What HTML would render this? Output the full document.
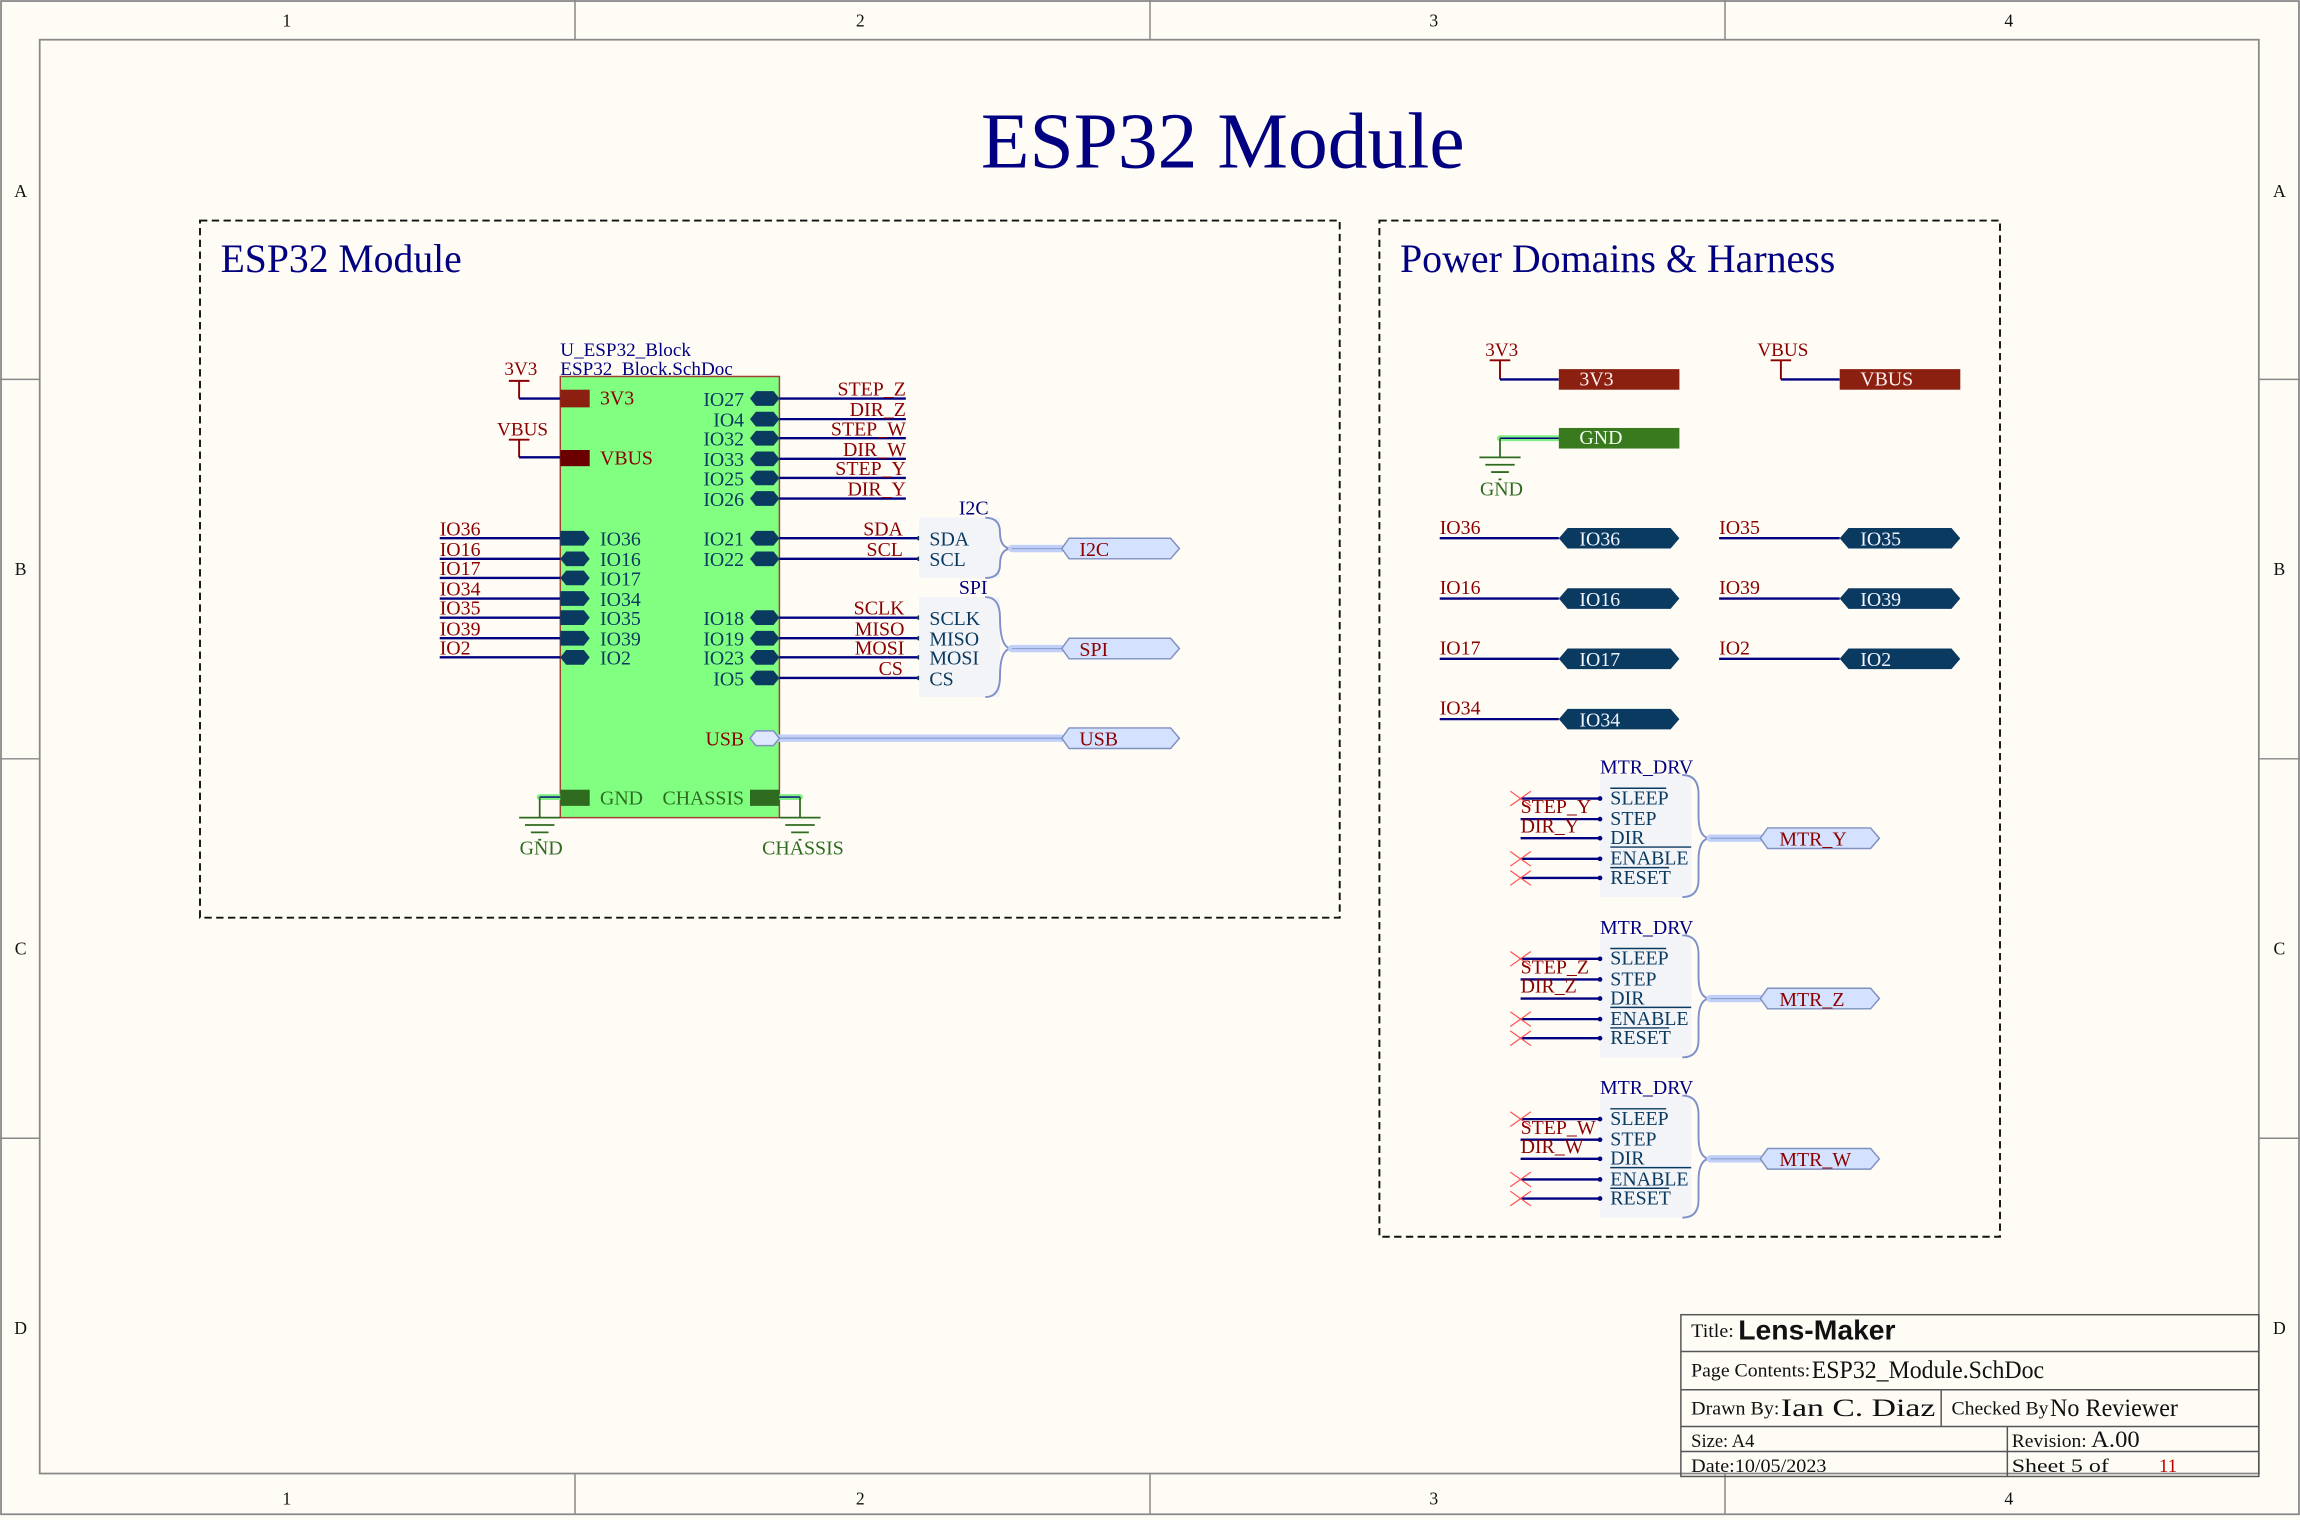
<!DOCTYPE html>
<html><head><meta charset="utf-8"><style>
html,body{margin:0;padding:0;background:#fffcf6;}
svg{display:block;}
text{font-family:"Liberation Serif",serif;}
.nv{fill:#000080}.dr{fill:#8b0000}.pb{fill:#0a3a60}.gr{fill:#2e6b1f}
.w{stroke:#000080;stroke-width:1.6;fill:none}
</style></head><body>
<svg width="2300" height="1520" viewBox="0 0 1564 1033.6" preserveAspectRatio="none" xmlns="http://www.w3.org/2000/svg">
<rect x="0" y="0" width="1564" height="1033.6" fill="#fffcf6"/>
<rect x="0.7" y="0.7" width="1562.6" height="1029" fill="none" stroke="#888" stroke-width="1.2"/>
<rect x="27" y="27" width="1509" height="975" fill="none" stroke="#888" stroke-width="1.2"/>
<g stroke="#888" stroke-width="1">
<line x1="391" y1="0" x2="391" y2="27"/><line x1="782" y1="0" x2="782" y2="27"/><line x1="1173" y1="0" x2="1173" y2="27"/>
<line x1="391" y1="1002" x2="391" y2="1030"/><line x1="782" y1="1002" x2="782" y2="1030"/><line x1="1173" y1="1002" x2="1173" y2="1030"/>
<line x1="0" y1="258" x2="27" y2="258"/><line x1="0" y1="516" x2="27" y2="516"/><line x1="0" y1="774" x2="27" y2="774"/>
<line x1="1536" y1="258" x2="1564" y2="258"/><line x1="1536" y1="516" x2="1564" y2="516"/><line x1="1536" y1="774" x2="1564" y2="774"/>
</g>
<g font-size="12" fill="#111" text-anchor="middle">
<text x="195" y="18">1</text><text x="585" y="18">2</text><text x="975" y="18">3</text><text x="1366" y="18">4</text>
<text x="195" y="1023">1</text><text x="585" y="1023">2</text><text x="975" y="1023">3</text><text x="1366" y="1023">4</text>
<text x="14" y="134">A</text><text x="14" y="391">B</text><text x="14" y="649">C</text><text x="14" y="907">D</text>
<text x="1550" y="134">A</text><text x="1550" y="391">B</text><text x="1550" y="649">C</text><text x="1550" y="907">D</text>
</g>
<text x="667" y="114" font-size="54" class="nv" textLength="329" lengthAdjust="spacingAndGlyphs">ESP32 Module</text>

<rect x="136" y="150" width="775" height="474" fill="none" stroke="#111" stroke-width="1.3" stroke-dasharray="5,3"/>
<rect x="938" y="150" width="422" height="691" fill="none" stroke="#111" stroke-width="1.3" stroke-dasharray="5,3"/>
<text x="150" y="185" font-size="27" class="nv" textLength="164" lengthAdjust="spacingAndGlyphs">ESP32 Module</text>
<text x="952" y="185" font-size="27" class="nv" textLength="296" lengthAdjust="spacingAndGlyphs">Power Domains &amp; Harness</text>

<text x="381" y="242" font-size="13" class="nv">U_ESP32_Block</text>
<text x="381" y="255" font-size="13" class="nv">ESP32_Block.SchDoc</text>
<rect x="381" y="256" width="149" height="300" fill="#80ff80" stroke="#a04030" stroke-width="1"/>

<text x="343" y="255" font-size="13" class="dr">3V3</text>
<path d="M346 259 H360 M353 259 V271" stroke="#8b0000" stroke-width="1.3" fill="none"/>
<path d="M353 271 H381" class="w"/>
<rect x="381" y="265" width="20" height="12" fill="#8b2010"/>
<text x="408" y="275" font-size="13.5" class="dr">3V3</text>
<text x="338" y="296" font-size="13" class="dr">VBUS</text>
<path d="M346 299 H360 M353 299 V311" stroke="#8b0000" stroke-width="1.3" fill="none"/>
<path d="M353 311 H381" class="w"/>
<rect x="381" y="306" width="20" height="11" fill="#6b0000"/>
<text x="408" y="316" font-size="13.5" class="dr">VBUS</text>

<g font-size="13.5">
<g class="w"><path d="M299 366H381M299 380H381M299 393H381M299 407H381M299 420H381M299 434H381M299 447H381"/></g>
<g class="dr">
<text x="299" y="364">IO36</text><text x="299" y="378">IO16</text><text x="299" y="391">IO17</text><text x="299" y="405">IO34</text><text x="299" y="418">IO35</text><text x="299" y="432">IO39</text><text x="299" y="445">IO2</text>
</g>
<g fill="#0a3a60">
<polygon points="381,361 397,361 401,366 397,371 381,371"/>
<polygon points="381,380 385,375 397,375 401,380 397,385 385,385"/>
<polygon points="381,393 385,388 397,388 401,393 397,398 385,398"/>
<polygon points="381,402 397,402 401,407 397,412 381,412"/>
<polygon points="381,415 397,415 401,420 397,425 381,425"/>
<polygon points="381,429 397,429 401,434 397,439 381,439"/>
<polygon points="381,447 385,442 397,442 401,447 397,452 385,452"/>
</g>
<g class="pb">
<text x="408" y="371">IO36</text><text x="408" y="385">IO16</text><text x="408" y="398">IO17</text><text x="408" y="412">IO34</text><text x="408" y="425">IO35</text><text x="408" y="439">IO39</text><text x="408" y="452">IO2</text>
</g>

<g class="w"><path d="M530 271H616M530 285H616M530 298H616M530 312H616M530 325H616M530 339H616M530 366H625M530 380H625M530 420H625M530 434H625M530 447H625M530 461H625"/></g>
<g fill="#0a3a60">
<polygon points="510,271 514,266 526,266 530,271 526,276 514,276"/>
<polygon points="510,285 514,280 526,280 530,285 526,290 514,290"/>
<polygon points="510,298 514,293 526,293 530,298 526,303 514,303"/>
<polygon points="510,312 514,307 526,307 530,312 526,317 514,317"/>
<polygon points="510,325 514,320 526,320 530,325 526,330 514,330"/>
<polygon points="510,339 514,334 526,334 530,339 526,344 514,344"/>
<polygon points="510,366 514,361 526,361 530,366 526,371 514,371"/>
<polygon points="510,380 514,375 526,375 530,380 526,385 514,385"/>
<polygon points="510,420 514,415 526,415 530,420 526,425 514,425"/>
<polygon points="510,434 514,429 526,429 530,434 526,439 514,439"/>
<polygon points="510,447 514,442 526,442 530,447 526,452 514,452"/>
<polygon points="510,461 514,456 526,456 530,461 526,466 514,466"/>
<circle cx="625" cy="366" r="1.6"/><circle cx="625" cy="380" r="1.6"/><circle cx="625" cy="420" r="1.6"/><circle cx="625" cy="434" r="1.6"/><circle cx="625" cy="447" r="1.6"/><circle cx="625" cy="461" r="1.6"/>
</g>
<g class="pb" text-anchor="end">
<text x="506" y="276">IO27</text><text x="506" y="290">IO4</text><text x="506" y="303">IO32</text><text x="506" y="317">IO33</text><text x="506" y="330">IO25</text><text x="506" y="344">IO26</text>
<text x="506" y="371">IO21</text><text x="506" y="385">IO22</text>
<text x="506" y="425">IO18</text><text x="506" y="439">IO19</text><text x="506" y="452">IO23</text><text x="506" y="466">IO5</text>
</g>
<g class="dr" text-anchor="end">
<text x="616" y="269">STEP_Z</text><text x="616" y="283">DIR_Z</text><text x="616" y="296">STEP_W</text><text x="616" y="310">DIR_W</text><text x="616" y="323">STEP_Y</text><text x="616" y="337">DIR_Y</text>
<text x="614" y="364">SDA</text><text x="614" y="378">SCL</text>
<text x="615" y="418">SCLK</text><text x="615" y="432">MISO</text><text x="615" y="445">MOSI</text><text x="614" y="459">CS</text>
</g>
</g>

<rect x="625" y="352" width="55" height="41" fill="#f3f4f8"/>
<rect x="625" y="406" width="55" height="68" fill="#f3f4f8"/>
<path d="M670 352 Q680 352 680 362 Q680 373 688 373 Q680 373 680 384 Q680 393 670 393" fill="none" stroke="#8090c8" stroke-width="1.3"/>
<path d="M670 406 Q680 406 680 420 Q680 441 688 441 Q680 441 680 460 Q680 474 670 474" fill="none" stroke="#8090c8" stroke-width="1.3"/>
<text x="652" y="350" font-size="13.5" class="nv">I2C</text>
<text x="652" y="404" font-size="13.5" class="nv">SPI</text>
<g font-size="13.5" class="pb">
<text x="632" y="371">SDA</text><text x="632" y="385">SCL</text>
<text x="632" y="425">SCLK</text><text x="632" y="439">MISO</text><text x="632" y="452">MOSI</text><text x="632" y="466">CS</text>
</g>
<g stroke="#c0d0f8" stroke-width="5" stroke-linecap="round">
<line x1="688" y1="373" x2="722" y2="373"/><line x1="688" y1="441" x2="722" y2="441"/><line x1="524" y1="502" x2="722" y2="502"/>
</g>
<g stroke="#8ea0d0" stroke-width="0.8">
<line x1="688" y1="373" x2="722" y2="373"/><line x1="688" y1="441" x2="722" y2="441"/><line x1="530" y1="502" x2="722" y2="502"/>
</g>
<polygon points="510,502 514,497 526,497 530,502 526,507 514,507" fill="#e0e8ff" stroke="#8090c0"/>
<g fill="#d4e2ff" stroke="#8090c0" stroke-width="1">
<polygon points="722,373 727,366 796,366 802,373 796,380 727,380"/>
<polygon points="722,441 727,434 796,434 802,441 796,448 727,448"/>
<polygon points="722,502 727,495 796,495 802,502 796,509 727,509"/>
</g>
<g font-size="13.5" class="dr">
<text x="734" y="378">I2C</text><text x="734" y="446">SPI</text><text x="734" y="507">USB</text>
<text x="506" y="507" text-anchor="end">USB</text>
</g>

<g stroke="#80ee80" stroke-width="4" stroke-linecap="round"><line x1="367" y1="542" x2="381" y2="542"/><line x1="530" y1="542" x2="544" y2="542"/></g>
<path d="M367 542H381M530 542H544" stroke="#000080" stroke-width="1"/>
<g stroke="#2e6b1f" stroke-width="1.2" fill="none">
<path d="M367 542V556M353 556H381M357 561H377M361 566H373M366 571H368"/>
<path d="M544 542V556M530 556H558M534 561H554M538 566H550M543 571H545"/>
</g>
<rect x="381" y="537" width="20" height="11" fill="#2e6b1f"/>
<rect x="510" y="537" width="20" height="11" fill="#2e6b1f"/>
<g font-size="13.5" class="gr">
<text x="408" y="547">GND</text><text x="506" y="547" text-anchor="end">CHASSIS</text>
<text x="368" y="581" text-anchor="middle">GND</text><text x="546" y="581" text-anchor="middle">CHASSIS</text>
</g>

<text x="1010" y="242" font-size="13" class="dr">3V3</text>
<path d="M1013 245H1027M1020 245V258" stroke="#8b0000" stroke-width="1.3" fill="none"/>
<path d="M1020 258H1060" class="w"/>
<rect x="1060" y="251" width="82" height="14" fill="#8b2010"/>
<text x="1074" y="262" font-size="13.5" fill="#fff0f0">3V3</text>
<text x="1195" y="242" font-size="13" class="dr">VBUS</text>
<path d="M1204 245H1218M1211 245V258" stroke="#8b0000" stroke-width="1.3" fill="none"/>
<path d="M1211 258H1251" class="w"/>
<rect x="1251" y="251" width="82" height="14" fill="#8b2010"/>
<text x="1265" y="262" font-size="13.5" fill="#fff0f0">VBUS</text>

<line x1="1020" y1="298" x2="1060" y2="298" stroke="#80ee80" stroke-width="4" stroke-linecap="round"/>
<line x1="1020" y1="298" x2="1060" y2="298" stroke="#000080" stroke-width="1"/>
<path d="M1020 298V311M1006 311H1034M1010 316H1030M1014 321H1026M1019 326H1021" stroke="#2e6b1f" stroke-width="1.2" fill="none"/>
<rect x="1060" y="291" width="82" height="14" fill="#3a7a1f"/>
<text x="1074" y="302" font-size="13.5" fill="#f0fff0">GND</text>
<text x="1021" y="337" font-size="13.5" class="gr" text-anchor="middle">GND</text>

<g font-size="13.5">
<g class="w"><path d="M979 366H1060M979 407H1060M979 448H1060M979 489H1060M1169 366H1251M1169 407H1251M1169 448H1251"/></g>
<g class="dr">
<text x="979" y="363">IO36</text><text x="979" y="404">IO16</text><text x="979" y="445">IO17</text><text x="979" y="486">IO34</text>
<text x="1169" y="363">IO35</text><text x="1169" y="404">IO39</text><text x="1169" y="445">IO2</text>
</g>
<g fill="#0a3a60">
<polygon points="1060,366 1066,359 1136,359 1142,366 1136,373 1066,373"/>
<polygon points="1060,407 1066,400 1136,400 1142,407 1136,414 1066,414"/>
<polygon points="1060,448 1066,441 1136,441 1142,448 1136,455 1066,455"/>
<polygon points="1060,489 1066,482 1136,482 1142,489 1136,496 1066,496"/>
<polygon points="1251,366 1257,359 1327,359 1333,366 1327,373 1257,373"/>
<polygon points="1251,407 1257,400 1327,400 1333,407 1327,414 1257,414"/>
<polygon points="1251,448 1257,441 1327,441 1333,448 1327,455 1257,455"/>
</g>
<g fill="#f0f4ff">
<text x="1074" y="371">IO36</text><text x="1074" y="412">IO16</text><text x="1074" y="453">IO17</text><text x="1074" y="494">IO34</text>
<text x="1265" y="371">IO35</text><text x="1265" y="412">IO39</text><text x="1265" y="453">IO2</text>
</g>
</g>

<defs>
<g id="mtr">
<rect x="1088" y="527" width="62" height="83" fill="#f3f4f8"/>
<path d="M1144 527 Q1155 527 1155 540 V555 Q1155 570 1163 570 Q1155 570 1155 585 V598 Q1155 610 1144 610" fill="none" stroke="#8090c8" stroke-width="1.3"/>
<text x="1088" y="526" font-size="13.5" fill="#000080">MTR_DRV</text>
<path d="M1034 543H1088M1034 557H1088M1034 570H1088M1034 584H1088M1034 597H1088" stroke="#000080" stroke-width="1.6"/>
<g fill="#000080"><circle cx="1088" cy="543" r="1.6"/><circle cx="1088" cy="557" r="1.6"/><circle cx="1088" cy="570" r="1.6"/><circle cx="1088" cy="584" r="1.6"/><circle cx="1088" cy="597" r="1.6"/></g>
<path d="M1027 538L1041 548M1041 538L1027 548M1027 579L1041 589M1041 579L1027 589M1027 592L1041 602M1041 592L1027 602" stroke="#ff5050" stroke-width="0.8"/>
<g font-size="13.5" fill="#0a3a60">
<text x="1095" y="547">SLEEP</text><text x="1095" y="561">STEP</text><text x="1095" y="574">DIR</text><text x="1095" y="588">ENABLE</text><text x="1095" y="601">RESET</text>
</g>
<path d="M1095 536H1133M1095 576H1150M1095 590H1135" stroke="#0a3a60" stroke-width="1"/>
<line x1="1163" y1="570" x2="1197" y2="570" stroke="#c0d0f8" stroke-width="5" stroke-linecap="round"/>
<line x1="1163" y1="570" x2="1197" y2="570" stroke="#8ea0d0" stroke-width="0.8"/>
<polygon points="1197,570 1202,563 1272,563 1278,570 1272,577 1202,577" fill="#d4e2ff" stroke="#8090c0"/>
</g>
</defs>
<use href="#mtr"/>
<use href="#mtr" transform="translate(0,109)"/>
<use href="#mtr" transform="translate(0,218)"/>
<g font-size="13.5" class="dr">
<text x="1034" y="553">STEP_Y</text><text x="1034" y="566">DIR_Y</text><text x="1210" y="575">MTR_Y</text>
<text x="1034" y="662">STEP_Z</text><text x="1034" y="675">DIR_Z</text><text x="1210" y="684">MTR_Z</text>
<text x="1034" y="771">STEP_W</text><text x="1034" y="784">DIR_W</text><text x="1210" y="793">MTR_W</text>
</g>

<g stroke="#555" stroke-width="1" fill="none">
<rect x="1143" y="894" width="393" height="110"/>
<path d="M1143 919H1536M1143 945H1536M1143 970H1536M1143 987H1536M1320 945V970M1365 970V1004"/>
</g>
<g fill="#111" font-size="13">
<text x="1150" y="909" textLength="29" lengthAdjust="spacingAndGlyphs">Title:</text>
<text x="1182" y="911" font-size="19" font-weight="bold" style="font-family:'Liberation Sans',sans-serif" textLength="107" lengthAdjust="spacingAndGlyphs">Lens-Maker</text>
<text x="1150" y="936" textLength="81" lengthAdjust="spacingAndGlyphs">Page Contents:</text>
<text x="1232" y="937" font-size="17" textLength="158" lengthAdjust="spacingAndGlyphs">ESP32_Module.SchDoc</text>
<text x="1150" y="962" textLength="60" lengthAdjust="spacingAndGlyphs">Drawn By:</text>
<text x="1211" y="963" font-size="17" textLength="105" lengthAdjust="spacingAndGlyphs">Ian C. Diaz</text>
<text x="1327" y="962" textLength="66" lengthAdjust="spacingAndGlyphs">Checked By</text>
<text x="1394" y="963" font-size="17" textLength="87" lengthAdjust="spacingAndGlyphs">No Reviewer</text>
<text x="1150" y="984" textLength="43" lengthAdjust="spacingAndGlyphs">Size: A4</text>
<text x="1368" y="984" textLength="51" lengthAdjust="spacingAndGlyphs">Revision:</text>
<text x="1422" y="984" font-size="16" textLength="33" lengthAdjust="spacingAndGlyphs">A.00</text>
<text x="1150" y="1001" textLength="92" lengthAdjust="spacingAndGlyphs">Date:10/05/2023</text>
<text x="1368" y="1001" textLength="66" lengthAdjust="spacingAndGlyphs">Sheet  5   of</text>
<text x="1468" y="1001" fill="#c00000">11</text>
</g>
</svg>
</body></html>
